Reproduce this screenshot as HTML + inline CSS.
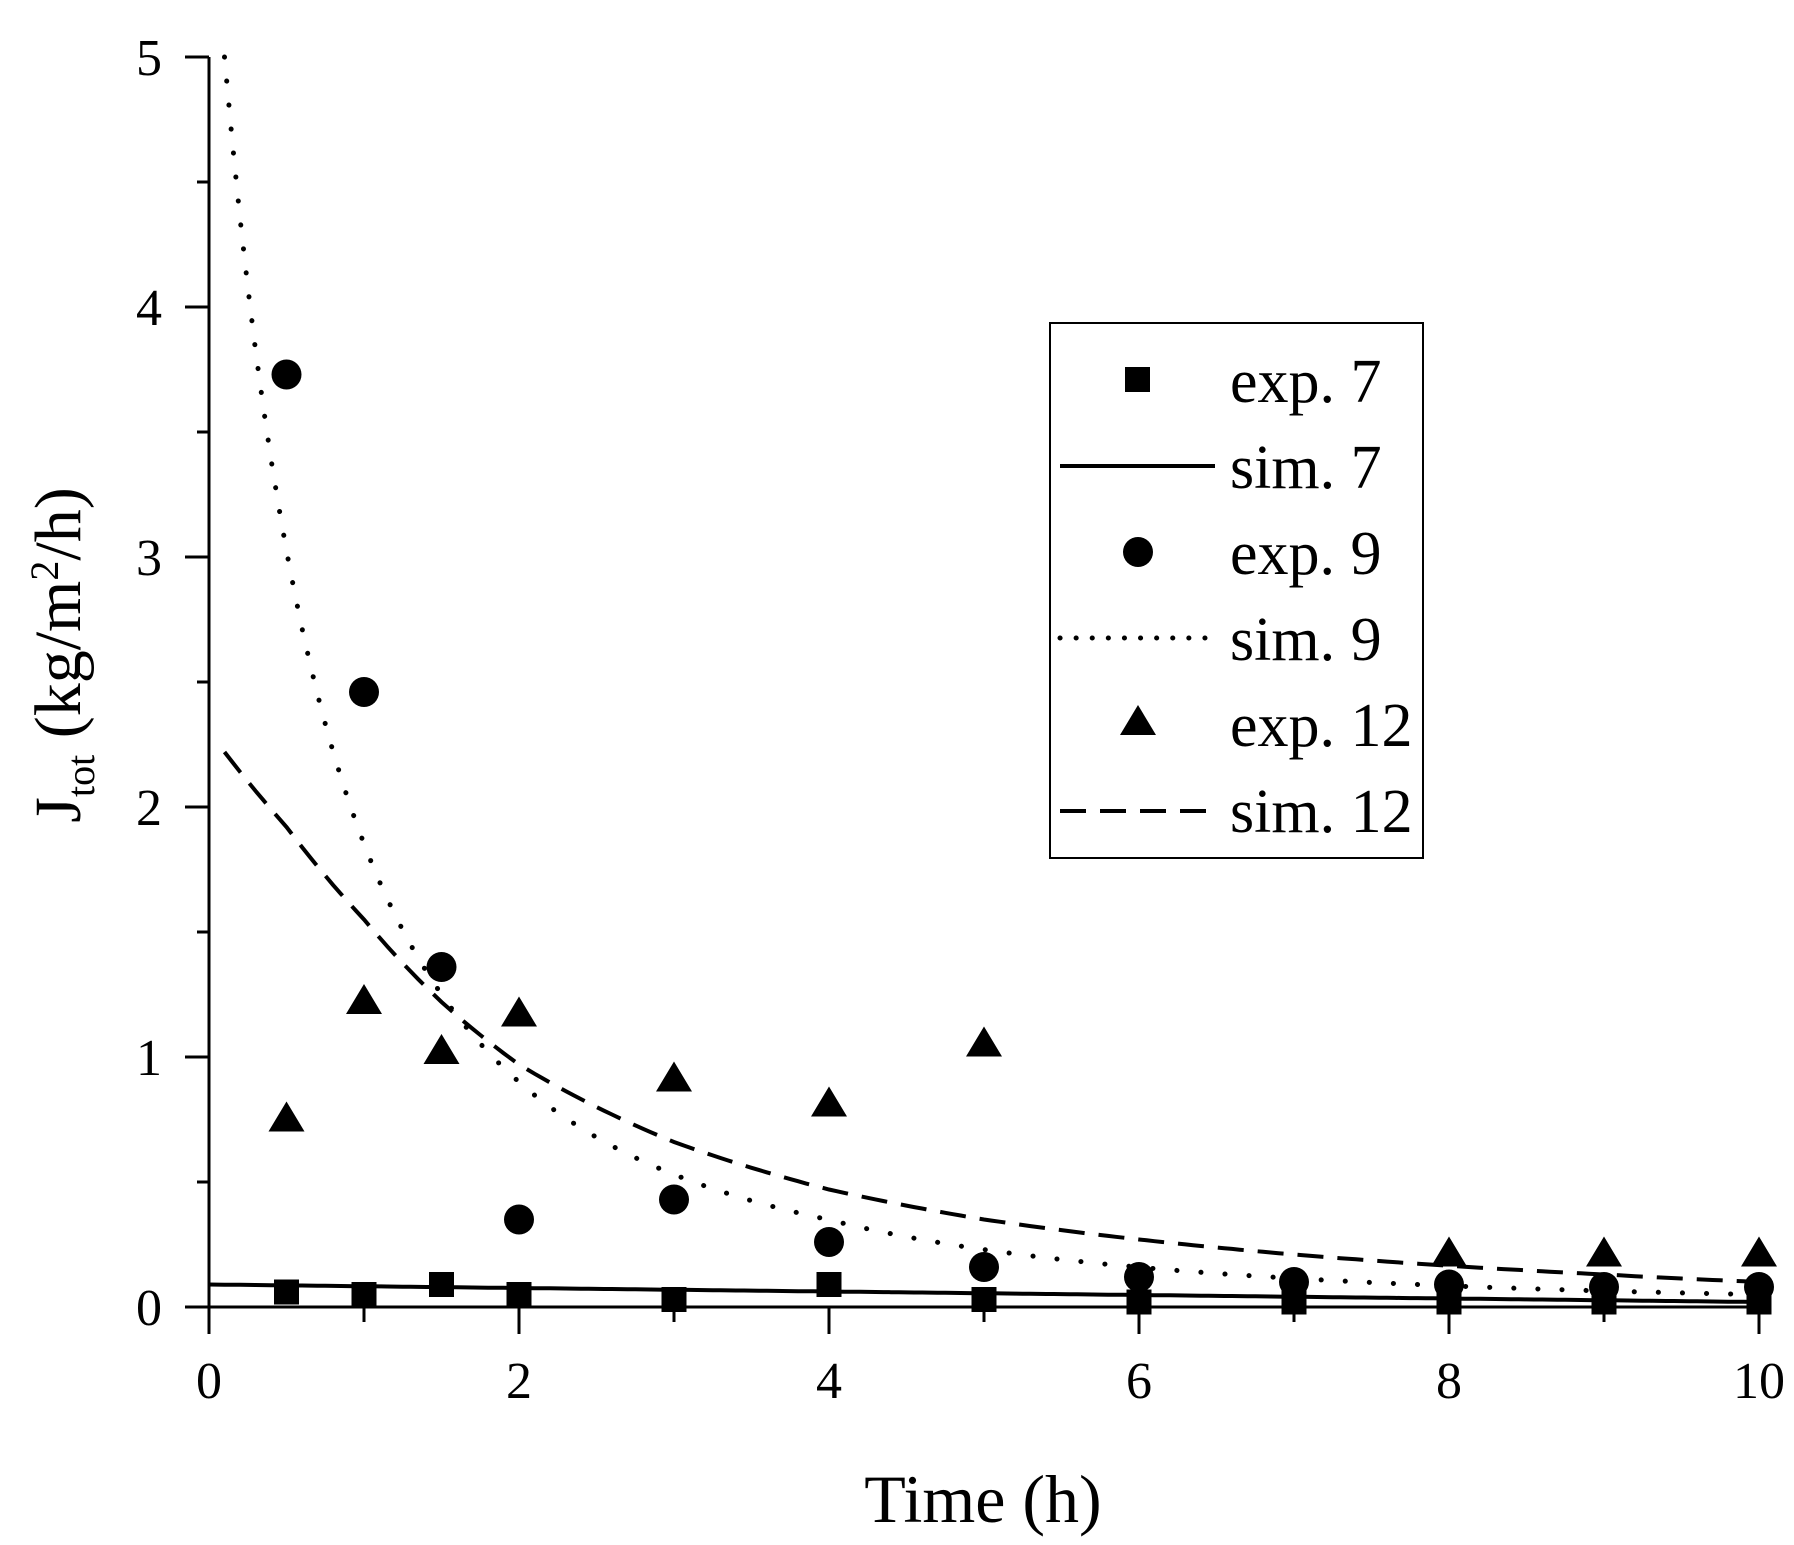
<!DOCTYPE html><html><head><style>body{margin:0;background:#fff}svg{display:block}text{font-family:"Liberation Serif",serif;fill:#000}</style></head><body>
<svg id="s" width="1794" height="1545" xmlns="http://www.w3.org/2000/svg">
<g id="g"></g>
<text x="983" y="1522" font-size="68" text-anchor="middle">Time (h)</text>
<text transform="translate(80,655) rotate(-90)" font-size="66" text-anchor="middle">J<tspan font-size="40" dy="14">tot</tspan><tspan dy="-14"> (kg/m</tspan><tspan font-size="40" dy="-22">2</tspan><tspan dy="22">/h)</tspan></text>
<rect x="1050" y="323" width="373" height="535" fill="none" stroke="#000" stroke-width="2"/>
<rect x="1125" y="367" width="25" height="25"/>
<line x1="1060" y1="466" x2="1215" y2="466" stroke="#000" stroke-width="4"/>
<circle cx="1138" cy="552" r="15"/>
<line x1="1060" y1="638" x2="1215" y2="638" stroke="#000" stroke-width="5" stroke-dasharray="0.1,16" stroke-linecap="round"/>
<polygon points="1138,705 1120,735 1156,735"/>
<line x1="1060" y1="811" x2="1215" y2="811" stroke="#000" stroke-width="4" stroke-dasharray="26,14"/>
<g font-size="62"><text x="1230" y="402">exp. 7</text><text x="1230" y="488">sim. 7</text><text x="1230" y="574">exp. 9</text><text x="1230" y="660">sim. 9</text><text x="1230" y="746">exp. 12</text><text x="1230" y="832">sim. 12</text></g>
</svg>
<script>
const X=t=>209+155*t, Y=v=>1307-250*v;
let h='';
h+=`<line x1="209" y1="57" x2="209" y2="1307" stroke="#000" stroke-width="3"/>`;
h+=`<line x1="186" y1="1307" x2="1761" y2="1307" stroke="#000" stroke-width="3"/>`;
for(let i=0;i<=10;i++){let v=i*0.5,y=Y(v),L=i%2?12:24;h+=`<line x1="${209-L}" y1="${y}" x2="209" y2="${y}" stroke="#000" stroke-width="3"/>`;if(i%2==0)h+=`<text x="${162}" y="${y+18}" font-size="52" text-anchor="end">${v}</text>`;}
for(let i=0;i<=10;i++){let x=X(i),L=i%2?15:27;h+=`<line x1="${x}" y1="1307" x2="${x}" y2="${1307+L}" stroke="#000" stroke-width="3"/>`;if(i%2==0)h+=`<text x="${x}" y="${1398}" font-size="52" text-anchor="middle">${i}</text>`;}
function pl(f,a,st){let p=[];for(let t=a;t<=10.001;t+=0.05)p.push(X(t).toFixed(1)+','+Y(f(t)).toFixed(1));return `<polyline points="${p.join(' ')}" fill="none" stroke="#000" ${st}/>`;}
h+=pl(t=>0.09-0.007*t,0,'stroke-width="4"');
h+=pl(t=>9.8/Math.pow(t+1.3,2)*(t>4?Math.pow(0.93,t-4):1),0.1,'stroke-width="5" stroke-dasharray="0.1,24" stroke-linecap="round"');
const P=[[0.1,2.22],[0.5,1.92],[1,1.55],[1.5,1.22],[2,0.97],[3,0.66],[4,0.47],[5,0.35],[6,0.27],[7,0.21],[8,0.165],[9,0.13],[10,0.1]];
function f12(t){for(let i=0;i<P.length-1;i++){let[a,b]=P[i],[c,d]=P[i+1];if(t<=c){let r=(t-a)/(c-a);return Math.exp(Math.log(b)*(1-r)+Math.log(d)*r);}}return 0.1;}
h+=pl(f12,0.1,'stroke-width="4" stroke-dasharray="26,14"');
const e7=[[0.5,0.06],[1,0.05],[1.5,0.09],[2,0.05],[3,0.03],[4,0.09],[5,0.03],[6,0.02],[7,0.02],[8,0.02],[9,0.02],[10,0.02]];
e7.forEach(([t,v])=>h+=`<rect x="${X(t)-12.5}" y="${Y(v)-12.5}" width="25" height="25"/>`);
const e9=[[0.5,3.73],[1,2.46],[1.5,1.36],[2,0.35],[3,0.43],[4,0.26],[5,0.16],[6,0.12],[7,0.1],[8,0.09],[9,0.08],[10,0.08]];
e9.forEach(([t,v])=>h+=`<circle cx="${X(t)}" cy="${Y(v)}" r="15"/>`);
const e12=[[0.5,0.75],[1,1.22],[1.5,1.02],[2,1.17],[3,0.91],[4,0.81],[5,1.05],[8,0.21],[9,0.21],[10,0.21]];
e12.forEach(([t,v])=>{let x=X(t),y=Y(v);h+=`<polygon points="${x},${y-18} ${x-18},${y+12} ${x+18},${y+12}"/>`;});
document.getElementById('g').innerHTML=h;
</script>
</body></html>
